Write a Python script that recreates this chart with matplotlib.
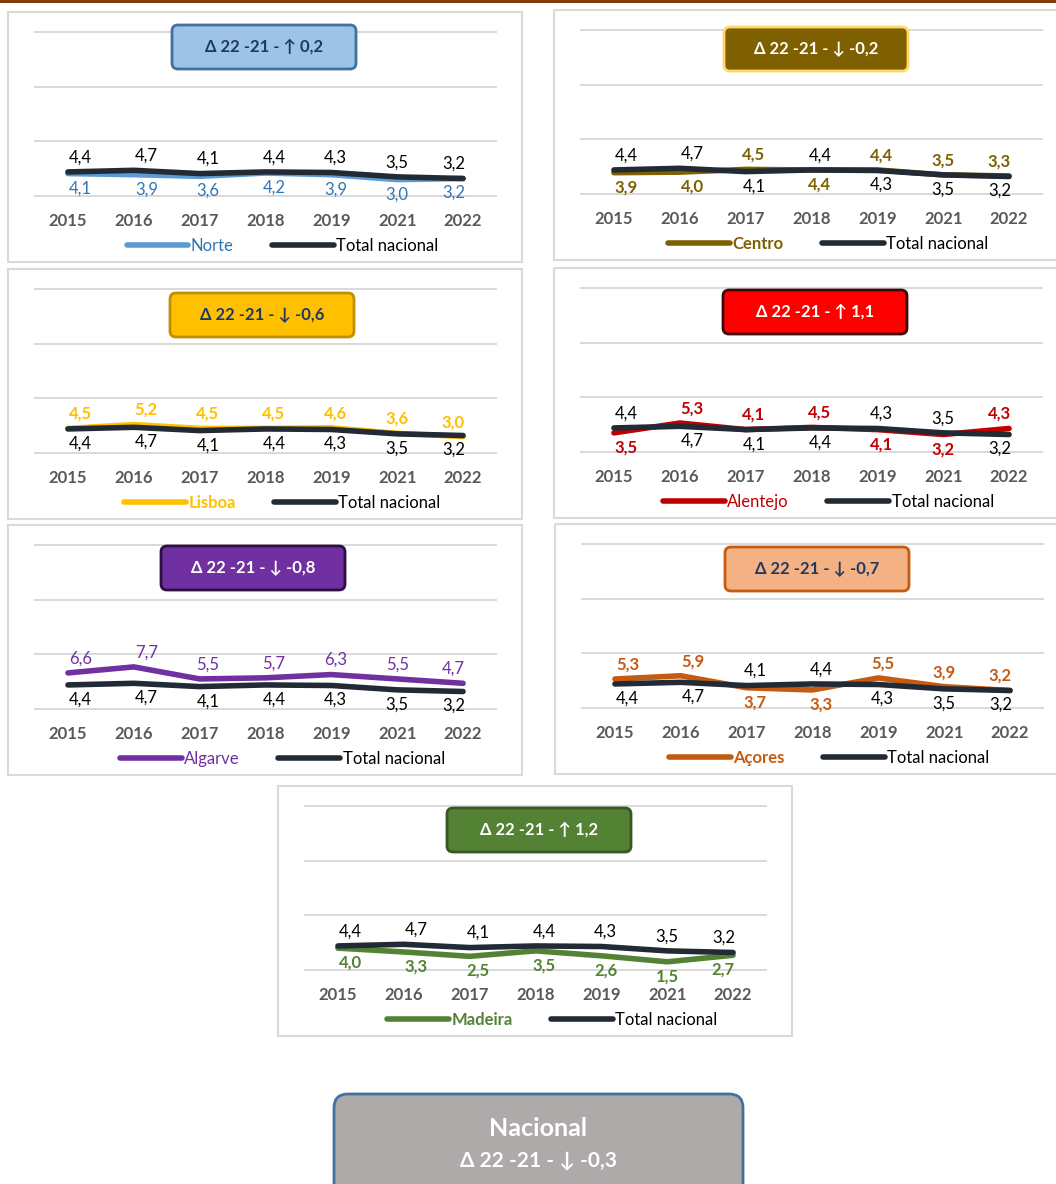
import matplotlib.pyplot as plt
from matplotlib.patches import FancyBboxPatch, Rectangle
from matplotlib.lines import Line2D

plt.rcParams['font.family'] = ['Lato', 'DejaVu Sans']

years = ['2015', '2016', '2017', '2018', '2019', '2021', '2022']
total_nacional = [4.4, 4.7, 4.1, 4.4, 4.3, 3.5, 3.2]
norte = [4.1, 3.9, 3.6, 4.2, 3.9, 3.0, 3.2]
centro = [3.9, 4.0, 4.5, 4.4, 4.4, 3.5, 3.3]
lisboa = [4.5, 5.2, 4.5, 4.5, 4.6, 3.6, 3.0]
alentejo = [3.5, 5.3, 4.1, 4.5, 4.1, 3.2, 4.3]
algarve = [6.6, 7.7, 5.5, 5.7, 6.3, 5.5, 4.7]
acores = [5.3, 5.9, 3.7, 3.3, 5.5, 3.9, 3.2]
madeira = [4.0, 3.3, 2.5, 3.5, 2.6, 1.5, 2.7]

W, H = 1056, 1184
PW, PH = 461, 164          # plot area in px
FS = 12
TOTAL_COLOR = '#222A35'
NAVY = '#203864'
# horizontal nudge of the value labels, in points, per year
LABEL_DX = [9, 9, 6, 6, 3, 0, -7]

# plot = top-left of the plot area (px), box = centre of the delta box (px)
# reg / tot = label above (a) or below (b) the line, per year
panels = [
    dict(name='Norte', values=norte, color='#5B9BD5', text='#2E75B6', bold=False, leg_bold=False,
         fill='#9DC3E6', edge='#41719C', box_text=NAVY, plot=(35, 32), box=(264, 47),
         reg='bbbbbbb', tot='aaaaaaa'),
    dict(name='Centro', values=centro, color='#7F6000', text='#7F6000', bold=True, leg_bold=True,
         fill='#7F6000', edge='#FFD966', box_text='white', plot=(581, 30), box=(816, 49),
         reg='bbabaaa', tot='aababbb'),
    dict(name='Lisboa', values=lisboa, color='#FFC000', text='#FFC000', bold=True, leg_bold=True,
         fill='#FFC000', edge='#BF9000', box_text=NAVY, plot=(35, 289), box=(262, 315),
         reg='aaaaaaa', tot='bbbbbbb'),
    dict(name='Alentejo', values=alentejo, color='#C00000', text='#C00000', bold=True, leg_bold=False,
         fill='#FF0000', edge='#3C0A0A', box_text='white', plot=(581, 288), box=(815, 312),
         reg='baaabba', tot='abbbaab'),
    dict(name='Algarve', values=algarve, color='#7030A0', text='#7030A0', bold=False, leg_bold=False,
         fill='#7030A0', edge='#2E0F45', box_text='white', plot=(35, 545), box=(253, 568),
         reg='aaaaaaa', tot='bbbbbbb'),
    dict(name='Açores', values=acores, color='#C55A11', text='#C55A11', bold=True, leg_bold=True,
         fill='#F4B183', edge='#C55A11', box_text=NAVY, plot=(582, 544), box=(817, 569),
         reg='aabbaaa', tot='bbaabbb'),
    dict(name='Madeira', values=madeira, color='#548235', text='#548235', bold=True, leg_bold=True,
         fill='#548235', edge='#385723', box_text='white', plot=(305, 806), box=(539, 830),
         reg='bbbbbbb', tot='aaaaaaa'),
]


def fmt(v):
    return f'{v:.1f}'.replace('.', ',')


def delta_text(vals):
    d = round(vals[-1] - vals[-2], 1)
    arrow = '↑' if d > 0 else '↓'
    return f'Δ 22 -21 - {arrow} {fmt(d)}'


fig = plt.figure(figsize=(W / 100, H / 100), dpi=100)

# overlay in pixel units for frames and boxes
ov = fig.add_axes([0, 0, 1, 1], zorder=10)
ov.set_xlim(0, W)
ov.set_ylim(H, 0)
ov.axis('off')
ov.patch.set_alpha(0)

ov.add_patch(Rectangle((0, 0), W, 3, color='#843C0C', lw=0))

x = list(range(len(years)))
for p in panels:
    L, T = p['plot']
    # panel frame
    ov.add_patch(Rectangle((L - 27, T - 20), PW + 53, 250, fill=False,
                           edgecolor='#D9D9D9', lw=1.5))

    ax = fig.add_axes([L / W, 1 - (T + PH) / H, PW / W, PH / H])
    ax.set_xlim(-0.5, 6.5)
    ax.set_ylim(0, 30)
    ax.set_yticks([0, 10, 20, 30])
    ax.yaxis.grid(True, color='#D9D9D9', lw=1.4)
    for gl in ax.get_ygridlines():
        gl.set_clip_on(False)
    ax.set_axisbelow(True)
    for s in ax.spines.values():
        s.set_visible(False)
    ax.tick_params(axis='y', length=0, labelleft=False)
    ax.set_xticks(x, years, fontweight='bold', fontsize=FS, color='#595959')
    ax.tick_params(axis='x', length=0, pad=18)
    for lbl in ax.get_xticklabels():
        lbl.set_va('center')

    vals = p['values']
    ax.plot(x, vals, color=p['color'], lw=4, solid_joinstyle='round',
            solid_capstyle='round', zorder=3, clip_on=False)
    ax.plot(x, total_nacional, color=TOTAL_COLOR, lw=4, solid_joinstyle='round',
            solid_capstyle='round', zorder=4, clip_on=False)

    for i in x:
        dy = 10.5 if p['reg'][i] == 'a' else -10.5
        ax.annotate(fmt(vals[i]), (i, vals[i]), xytext=(LABEL_DX[i], dy),
                    textcoords='offset points', ha='center', va='center',
                    fontsize=FS, color=p['text'],
                    fontweight='bold' if p['bold'] else 'normal', zorder=6)
        dy = 10.5 if p['tot'][i] == 'a' else -10.5
        ax.annotate(fmt(total_nacional[i]), (i, total_nacional[i]), xytext=(LABEL_DX[i], dy),
                    textcoords='offset points', ha='center', va='center',
                    fontsize=FS, color='black', zorder=6)

    handles = [Line2D([], [], color=p['color'], lw=4, solid_capstyle='round'),
               Line2D([], [], color=TOTAL_COLOR, lw=4, solid_capstyle='round')]
    leg = ax.legend(handles, [p['name'], 'Total nacional'], loc='center',
                    bbox_to_anchor=(0.5 + 17 / PW, 1 - 214 / PH), ncol=2, frameon=False,
                    fontsize=FS, handlelength=3.7, handletextpad=0.15, columnspacing=2.3)
    t0, t1 = leg.get_texts()
    t0.set_color(p['text'])
    t0.set_fontweight('bold' if p['leg_bold'] else 'normal')
    t1.set_color('black')

    # delta box
    bx, by = p['box']
    ov.add_patch(FancyBboxPatch((bx - 92, by - 22), 184, 44,
                                boxstyle='round,pad=0,rounding_size=6',
                                facecolor=p['fill'], edgecolor=p['edge'], lw=2))
    ov.text(bx, by, delta_text(vals), ha='center', va='center', fontsize=FS,
            fontweight='bold', color=p['box_text'])

# national summary box
ov.add_patch(FancyBboxPatch((334, 1094), 409, 120, boxstyle='round,pad=0,rounding_size=14',
                            facecolor='#AEAAAA', edgecolor='#41719C', lw=2))
ov.text(538, 1128, 'Nacional', ha='center', va='center', fontsize=18,
        fontweight='bold', color='white')
ov.text(538, 1160, delta_text(total_nacional), ha='center', va='center', fontsize=15,
        fontweight='bold', color='white')

fig.savefig('out.png', dpi=100, facecolor='white')
